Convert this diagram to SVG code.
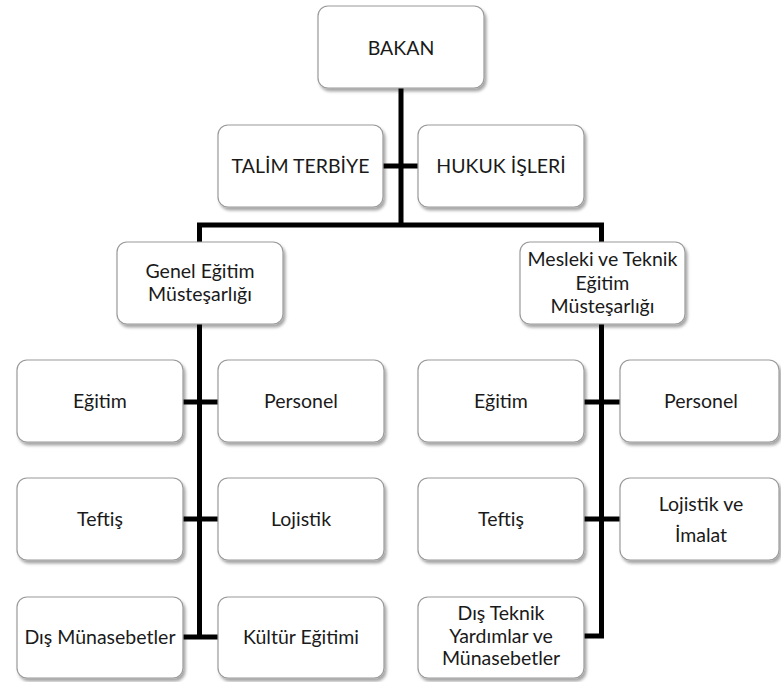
<svg xmlns="http://www.w3.org/2000/svg" width="781" height="682" viewBox="0 0 781 682">
  <defs>
    <filter id="sh" x="-10%" y="-10%" width="130%" height="140%">
      <feDropShadow dx="2" dy="3" stdDeviation="1.8" flood-color="#000" flood-opacity="0.35"/>
    </filter>
  </defs>
  <style>
    .box { fill: #ffffff; stroke: #9a9a9a; stroke-width: 1.2; filter: url(#sh); }
    .lbl { font-family: Lato, "Open Sans", "Liberation Sans", sans-serif; font-size: 19.5px; fill: #1a1a1a; text-anchor: middle; }
    .con { fill: none; stroke: #000; stroke-width: 5; stroke-linejoin: miter; stroke-linecap: butt; }
  </style>
  <rect width="781" height="682" fill="#ffffff"/>

  <g id="connectors">
    <path class="con" d="M401,88 V225"/>
    <path class="con" d="M383,166 H418"/>
    <path class="con" d="M199.5,242 V225 H601.5 V242"/>
    <path class="con" d="M199.5,324 V637"/>
    <path class="con" d="M183,402 H218"/>
    <path class="con" d="M183,519 H218"/>
    <path class="con" d="M183,637 H218"/>
    <path class="con" d="M601.5,324 V636 H584"/>
    <path class="con" d="M584,402 H620"/>
    <path class="con" d="M584,519 H620"/>
  </g>

  <g id="bakan">
    <rect class="box" x="318" y="6" width="166" height="82" rx="10"/>
    <text class="lbl" x="401" y="55">BAKAN</text>
  </g>
  <g id="talim-terbiye">
    <rect class="box" x="218" y="125" width="165" height="82" rx="10"/>
    <text class="lbl" x="300.5" y="173">TALİM TERBİYE</text>
  </g>
  <g id="hukuk-isleri">
    <rect class="box" x="418" y="125" width="166" height="82" rx="10"/>
    <text class="lbl" x="501" y="173">HUKUK İŞLERİ</text>
  </g>

  <g id="genel-egitim">
    <rect class="box" x="117" y="242" width="166" height="82" rx="10"/>
    <text class="lbl" x="200" y="278">Genel Eğitim</text>
    <text class="lbl" x="200" y="301">Müsteşarlığı</text>
  </g>
  <g id="mesleki-teknik">
    <rect class="box" x="520" y="242" width="165" height="82" rx="10"/>
    <text class="lbl" x="602.5" y="266">Mesleki ve Teknik</text>
    <text class="lbl" x="602.5" y="290">Eğitim</text>
    <text class="lbl" x="602.5" y="313">Müsteşarlığı</text>
  </g>

  <g id="g-egitim">
    <rect class="box" x="17" y="360" width="166" height="82" rx="10"/>
    <text class="lbl" x="100" y="408">Eğitim</text>
  </g>
  <g id="g-personel">
    <rect class="box" x="218" y="360" width="166" height="82" rx="10"/>
    <text class="lbl" x="301" y="408">Personel</text>
  </g>
  <g id="g-teftis">
    <rect class="box" x="17" y="478" width="166" height="82" rx="10"/>
    <text class="lbl" x="100" y="526">Teftiş</text>
  </g>
  <g id="g-lojistik">
    <rect class="box" x="218" y="478" width="166" height="82" rx="10"/>
    <text class="lbl" x="301" y="526">Lojistik</text>
  </g>
  <g id="g-dis-munasebetler">
    <rect class="box" x="17" y="597" width="166" height="81" rx="10"/>
    <text class="lbl" x="100" y="644">Dış Münasebetler</text>
  </g>
  <g id="g-kultur-egitimi">
    <rect class="box" x="218" y="597" width="166" height="81" rx="10"/>
    <text class="lbl" x="301" y="644">Kültür Eğitimi</text>
  </g>

  <g id="m-egitim">
    <rect class="box" x="418" y="360" width="166" height="82" rx="10"/>
    <text class="lbl" x="501" y="408">Eğitim</text>
  </g>
  <g id="m-personel">
    <rect class="box" x="620" y="360" width="159" height="82" rx="10"/>
    <text class="lbl" x="701" y="408">Personel</text>
  </g>
  <g id="m-teftis">
    <rect class="box" x="418" y="478" width="166" height="82" rx="10"/>
    <text class="lbl" x="501" y="526">Teftiş</text>
  </g>
  <g id="m-lojistik-imalat">
    <rect class="box" x="620" y="478" width="159" height="82" rx="10"/>
    <text class="lbl" x="701" y="511">Lojistik ve</text>
    <text class="lbl" x="701" y="542">İmalat</text>
  </g>
  <g id="m-dis-teknik">
    <rect class="box" x="418" y="597" width="166" height="81" rx="10"/>
    <text class="lbl" x="501" y="620">Dış Teknik</text>
    <text class="lbl" x="501" y="643">Yardımlar ve</text>
    <text class="lbl" x="501" y="665">Münasebetler</text>
  </g>
</svg>
